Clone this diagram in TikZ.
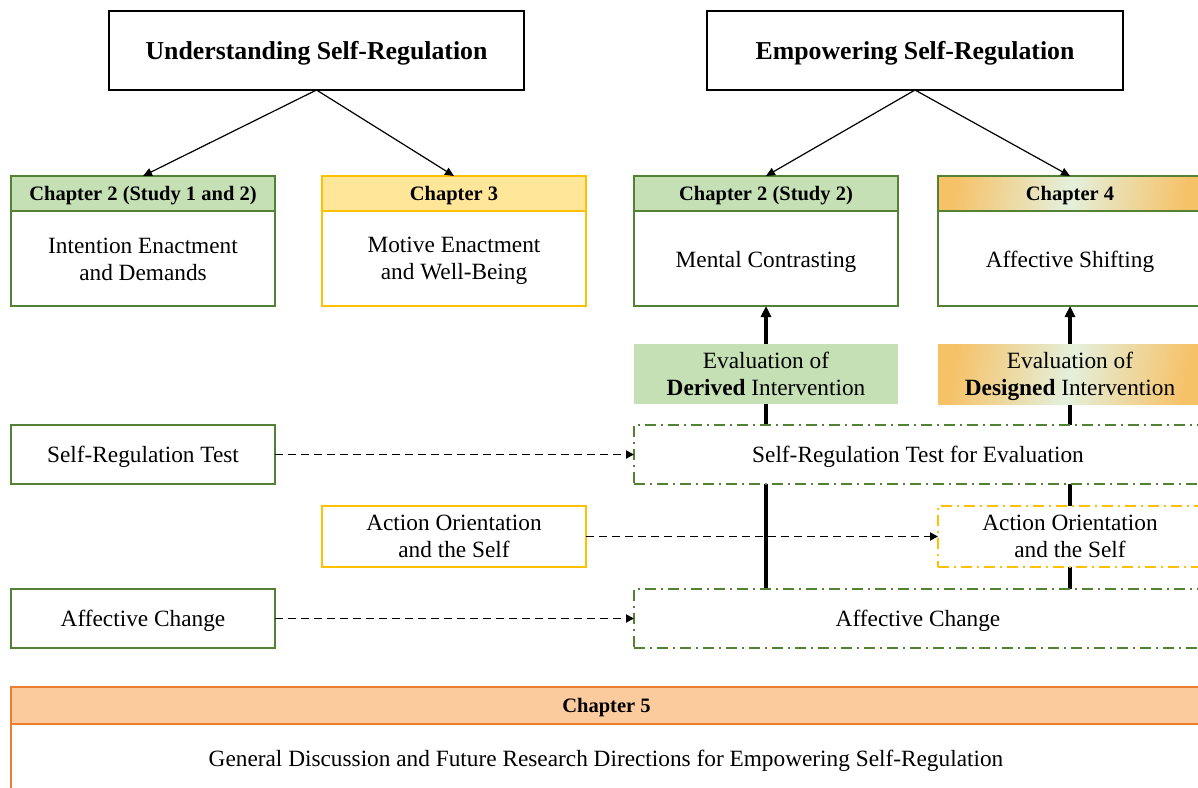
\documentclass[tikz,border=0pt]{standalone}
\usepackage{fontspec}
\setmainfont{Liberation Serif}
\usetikzlibrary{arrows.meta}

\definecolor{grn}{RGB}{84,130,53}
\definecolor{grnfill}{RGB}{197,224,180}
\definecolor{ylw}{RGB}{255,192,0}
\definecolor{ylwfill}{RGB}{255,230,153}
\definecolor{org}{RGB}{237,125,49}
\definecolor{orgfill}{RGB}{251,203,158}
\definecolor{warm}{RGB}{246,194,104}
\definecolor{pale}{RGB}{228,240,220}

\newcommand\txtbody{\fontsize{23.3}{27.5}\selectfont}
\newcommand\txthead{\fontsize{20.5}{24}\bfseries\selectfont}
\newcommand\txttitle{\fontsize{25.8}{30}\bfseries\selectfont}

\tikzset{
  x=1pt, y=-1pt,
  bodytext/.style={font=\txtbody, align=center, text height=21pt, text depth=5pt},
  twoline/.style={text height=, text depth=},
  base/.style={anchor=north west, inner sep=0pt, outer sep=0pt, bodytext},
  titlebox/.style={base, draw=black, line width=1.5pt, fill=white, font=\txttitle,
    text height=23pt, text depth=5pt},
  gbox/.style={base, draw=grn, line width=2pt, fill=white},
  ybox/.style={base, draw=ylw, line width=2pt, fill=white},
  obox/.style={base, draw=org, line width=2pt, fill=white},
  gdash/.style={base, draw=grn, line width=2pt, fill=white,
    dash pattern=on 11pt off 5pt on 2pt off 5pt},
  ydash/.style={base, draw=ylw, line width=2pt, fill=white,
    dash pattern=on 11pt off 5pt on 2pt off 5pt},
  head/.style={anchor=north, inner sep=0pt, outer sep=0pt, font=\txthead,
    text height=18pt, text depth=3.4pt, line width=2pt},
  warmshade/.style={left color=warm, right color=warm, middle color=pale, shading angle=80},
  thin/.style={line width=1.2pt, -{Triangle[length=9pt,width=8pt]}},
  link/.style={line width=1.9pt, dash pattern=on 8pt off 5pt, -{Triangle[length=8pt,width=8pt]}},
  thick/.style={line width=3.2pt, -{Triangle[length=11pt,width=10pt]}},
}

\begin{document}
\begin{tikzpicture}
\useasboundingbox (0,0) rectangle (1198,787);
\clip (0,0) rectangle (1198,787);

% title boxes
\node[titlebox, minimum width=415pt, minimum height=79pt] (us) at (109,11) {Understanding Self-Regulation};
\node[titlebox, minimum width=416pt, minimum height=79pt] (es) at (707,11) {Empowering Self-Regulation};

% lower ends of the two vertical spines
\coordinate (spA) at (766,589);
\coordinate (spB) at (1070,589);

% chapter boxes
\node[gbox, minimum width=264pt, minimum height=130pt] (c2a) at (11,176) {};
\node[head, draw=grn, fill=grnfill, minimum width=264pt, minimum height=35pt] (c2ah) at (c2a.north) {Chapter 2 (Study 1 and 2)};
\node[bodytext, twoline] (c2at) at (143,259.5) {Intention Enactment\\and Demands};

\node[ybox, minimum width=264pt, minimum height=130pt] (c3) at (322,176) {};
\node[head, draw=ylw, fill=ylwfill, minimum width=264pt, minimum height=35pt] (c3h) at (c3.north) {Chapter 3};
\node[bodytext, twoline] (c3t) at (454,261) {Motive Enactment\\and Well-Being};

\node[gbox, minimum width=264pt, minimum height=130pt] (c2b) at (634,176) {};
\node[head, draw=grn, fill=grnfill, minimum width=264pt, minimum height=35pt] (c2bh) at (c2b.north) {Chapter 2 (Study 2)};
\node[bodytext] (c2bt) at (766,259) {Mental Contrasting};

\node[gbox, minimum width=264pt, minimum height=130pt] (c4) at (938,176) {};
\node[head, draw=grn, warmshade, minimum width=264pt, minimum height=35pt] (c4h) at (c4.north) {Chapter 4};
\node[bodytext] (c4t) at (1070,259) {Affective Shifting};

% spines with arrows into the chapter boxes (boxes below cover them)
\draw[thick] (spA) -- (c2b.south);
\draw[thick] (spB) -- (c4.south);

% evaluation labels
\node[base, twoline, fill=grnfill, minimum width=264pt, minimum height=60pt] (evd) at (634,344) {Evaluation of\\\textbf{Derived} Intervention};
\node[base, twoline, text depth=0pt, warmshade, minimum width=264pt, minimum height=60pt] (evg) at (938,344) {Evaluation of\\\textbf{Designed} Intervention};

% test rows
\node[gbox, minimum width=264pt, minimum height=59pt] (srt) at (11,425) {Self-Regulation Test};
\node[gdash, minimum width=568pt, minimum height=59pt] (srte) at (634,425) {Self-Regulation Test for Evaluation};

\node[ybox, twoline, minimum width=264pt, minimum height=61pt] (aol) at (322,506) {Action Orientation\\and the Self};
\node[ydash, twoline, minimum width=264pt, minimum height=61pt] (aor) at (938,506) {Action Orientation\\and the Self};

\node[gbox, minimum width=264pt, minimum height=59pt] (acl) at (11,589) {Affective Change};
\node[gdash, minimum width=568pt, minimum height=59pt] (acr) at (634,589) {Affective Change};

% chapter 5
\node[obox, minimum width=1191pt, minimum height=120pt] (c5) at (11,687) {};
\node[head, draw=org, fill=orgfill, minimum width=1191pt, minimum height=37pt] (c5h) at (c5.north) {Chapter 5};
\node[bodytext] (c5t) at (606,758) {General Discussion and Future Research Directions for Empowering Self-Regulation};

% connectors
\draw[thin] (us.south) -- (c2a.north);
\draw[thin] (us.south) -- (c3.north);
\draw[thin] (es.south) -- (c2b.north);
\draw[thin] (es.south) -- (c4.north);

\draw[link] (srt.east) -- (srte.west);
\draw[link] (aol.east) -- (aor.west);
\draw[link] (acl.east) -- (acr.west);
\end{tikzpicture}
\end{document}
